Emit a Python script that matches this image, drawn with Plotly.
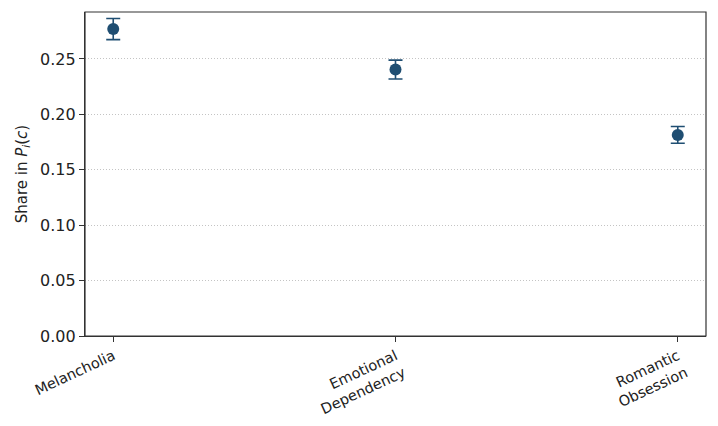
import plotly.graph_objects as go

# categories and measured shares with half-width of the error bars
categories = ["Melancholia", "Emotional<br>Dependency", "Romantic<br>Obsession"]
shares = [0.277, 0.2405, 0.1815]
errors = [0.0095, 0.0085, 0.0075]
y_ticks = [0.00, 0.05, 0.10, 0.15, 0.20, 0.25]

color = "#1f4e72"
font = "DejaVu Sans, sans-serif"

# the page body adds 8px margin, so the figure is 8px smaller than the window
fig = go.Figure()
fig.add_trace(go.Scatter(
    x=list(range(len(categories))), y=shares,
    mode="markers",
    marker=dict(size=12, color=color),
    error_y=dict(type="data", array=errors, color=color, thickness=1.6, width=7),
    showlegend=False,
))

fig.update_layout(
    width=710, height=418,
    margin=dict(l=77, r=12, t=4, b=90),
    plot_bgcolor="white", paper_bgcolor="white",
    font=dict(family=font, size=16, color="#222"),
    shapes=[dict(type="rect", xref="paper", yref="paper", x0=0, x1=1, y0=0, y1=1,
                 line=dict(color="#333", width=1.2), layer="above")],
)
fig.update_xaxes(
    range=[-0.1, 2.1],
    tickvals=list(range(len(categories))), ticktext=categories,
    tickangle=-25, tickfont=dict(size=14.5),
    showline=True, linecolor="#333", linewidth=1.2,
    ticks="outside", ticklen=5, tickcolor="#333",
    showgrid=False, zeroline=False,
)
fig.update_yaxes(
    range=[0, 0.2924],
    tickvals=y_ticks, ticktext=[f"{v:.2f}" for v in y_ticks],
    showline=True, linecolor="#333", linewidth=1.2,
    ticks="outside", ticklen=5, tickcolor="#333",
    showgrid=True, gridcolor="#c4c4c4", griddash="1px,2px", gridwidth=1,
    zeroline=False,
    title=dict(text="Share in <i>P</i><sub><i>i</i></sub>(<i>c</i>)", font=dict(size=15), standoff=8),
)

fig.write_html("out.html")
